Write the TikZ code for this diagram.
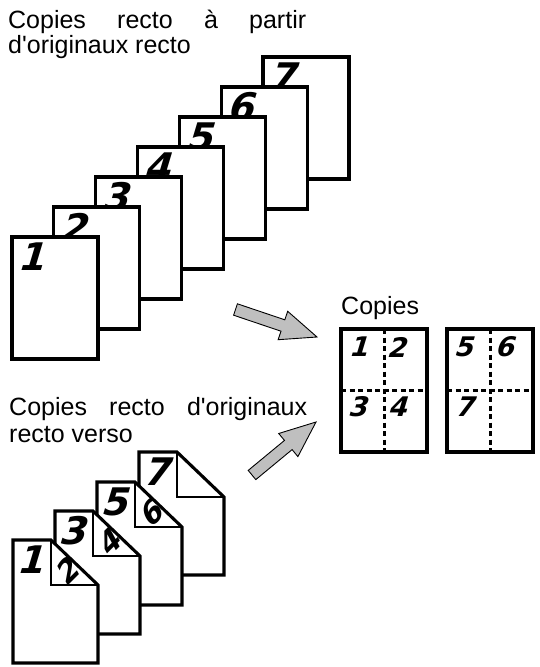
\documentclass[tikz,border=0pt]{standalone}
\usepackage{fontspec}
\setmainfont{Liberation Sans}
\newfontfamily\digf[FakeSlant=0.3]{DejaVu Sans Bold}
\newcommand\rvpage[5]{%
  \draw[page] (#1,#2) -- ++(38,0) -- ++(47,45) -- (#1+85,#2+123) -- (#1,#2+123) -- cycle;
  \begin{scope}
    \clip (#1+38,#2) -- (#1+38,#2+45) -- (#1+85,#2+45) -- cycle;
    \node[flapdig,rotate=45] (#5b) at (#1+53,#2+32) {#4};
  \end{scope}
  \draw[flapline] (#1+38,#2) -- (#1+38,#2+45) -- (#1+85,#2+45);
  \node[bigdig] (#5f) at (#1+17,#2+20) {#3};
}
\begin{document}
\begin{tikzpicture}[x=1pt,y=-1pt,
  page/.style={draw=black,fill=white,line width=3.1pt,line join=miter},
  flapline/.style={draw=black,line width=1.5pt},
  lbl/.style={inner sep=0pt,font=\fontsize{25}{30}\selectfont},
  bigdig/.style={inner sep=0pt,font=\digf\fontsize{38}{38}\selectfont},
  flapdig/.style={inner sep=0pt,font=\digf\fontsize{30}{30}\selectfont},
  smalldig/.style={inner sep=0pt,font=\digf\fontsize{27}{27}\selectfont},
  blockarrow/.style={draw=black,fill=black!25,line width=0.9pt,line join=miter},
  foldline/.style={draw=black,dash pattern=on 5pt off 3.5pt,line width=3pt}]
\useasboundingbox (0,0) rectangle (540,667);

% headings
\node[lbl,anchor=base west] (h1) at (8,28) {\makebox[298pt][s]{Copies recto à partir}};
\node[lbl,anchor=base west] (h2) at (8,53) {d\textquotesingle originaux recto};
\node[lbl,anchor=base west] (h3) at (9,415) {\makebox[298pt][s]{Copies recto d\textquotesingle originaux}};
\node[lbl,anchor=base west] (h4) at (9,442) {recto verso};
\node[lbl,anchor=base west] (h5) at (341,314) {Copies};

% top stack (simplex originals)
\foreach \i in {7,6,5,4,3,2,1} {
  \pgfmathsetmacro\L{12+41.83*(\i-1)}
  \pgfmathsetmacro\T{237-30*(\i-1)}
  \draw[page] (\L,\T) rectangle ++(86,122);
  \node[bigdig] (t\i) at (\L+19,\T+20) {\i};
}

% bottom stack (duplex originals)
\rvpage{139}{452}{7}{}{p4}
\rvpage{97}{482}{5}{6}{p3}
\rvpage{55}{511}{3}{4}{p2}
\rvpage{13}{540}{1}{2}{p1}

% arrows
\draw[blockarrow] (237.4,303.8) -- (284.8,319.8) -- (287.7,311.3) -- (317,337) -- (278.1,339.7) -- (281.0,331.2) -- (233.6,315.2) -- cycle;
\draw[blockarrow] (248.2,470.4) -- (284.5,440.4) -- (278.7,433.5) -- (316,422) -- (297.9,456.6) -- (292.1,449.6) -- (255.8,479.6) -- cycle;

% copies
\fill[white] (341,329) rectangle (427,452);
\draw[foldline] (384,329) -- (384,452);
\draw[foldline] (341,390) -- (427,390);
\draw[page,fill=none] (341,329) rectangle (427,452);
\node[smalldig] (c1) at (358,347) {1};
\node[smalldig] (c2) at (396,347) {2};
\node[smalldig] (c3) at (357,407) {3};
\node[smalldig] (c4) at (397,407) {4};

\fill[white] (447,329) rectangle (533,452);
\draw[foldline] (490,329) -- (490,452);
\draw[foldline] (447,390) -- (533,390);
\draw[page,fill=none] (447,329) rectangle (533,452);
\node[smalldig] (c5) at (463,347) {5};
\node[smalldig] (c6) at (504,347) {6};
\node[smalldig] (c7) at (464,407) {7};
\end{tikzpicture}
\end{document}
